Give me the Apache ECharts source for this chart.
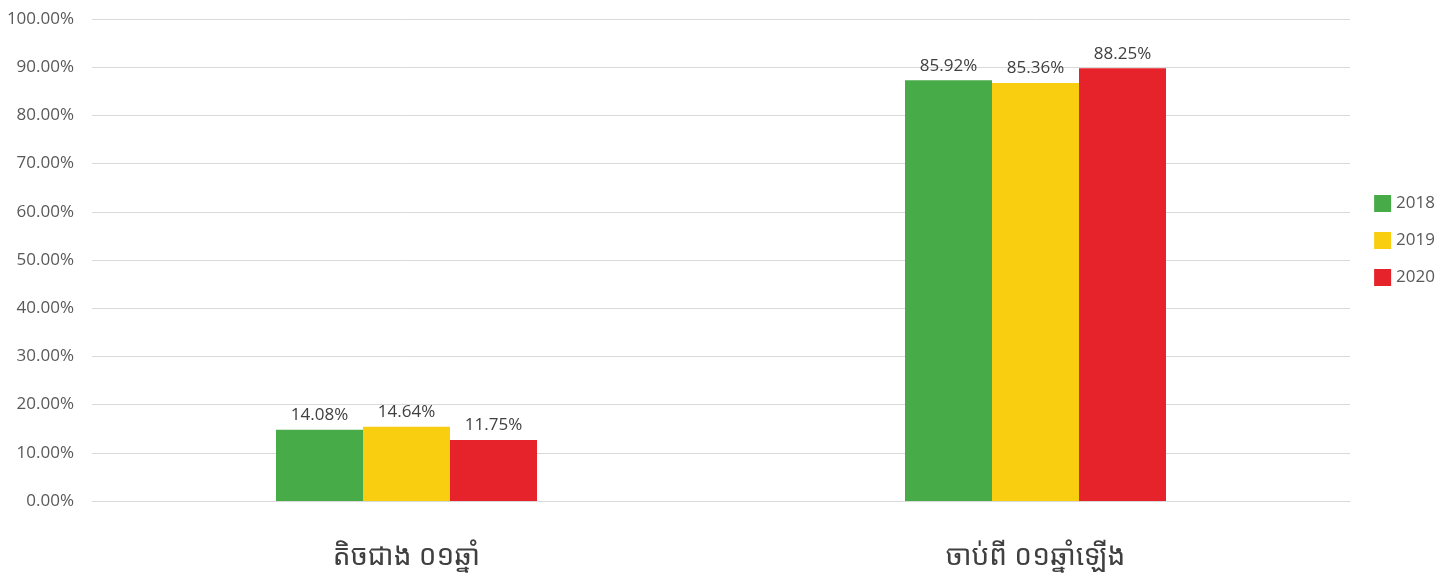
<!DOCTYPE html>
<html>
<head>
    <meta charset="utf-8">
    <title>Bar chart</title>
    <script src="https://cdn.jsdelivr.net/npm/echarts/dist/echarts.min.js"></script>
    <style>
        html, body { margin: 0; padding: 0; background: #fff; }
    </style>
</head>
<body>
    <div id="main" style="width: 1454px;height:579px;"></div>
    <script type="text/javascript">
        var categories = ['តិចជាង ០១ឆ្នាំ', 'ចាប់ពី ០១ឆ្នាំឡើង'];
        var years = ['2018', '2019', '2020'];
        // bar heights as drawn in the picture
        var v2018 = [14.76, 87.3];
        var v2019 = [15.38, 86.7];
        var v2020 = [12.68, 89.8];
        // printed labels
        var l2018 = ['14.08%', '85.92%'];
        var l2019 = ['14.64%', '85.36%'];
        var l2020 = ['11.75%', '88.25%'];
        var colors = ['#47ab48', '#f9cd10', '#e6232b'];

        var values = [v2018, v2019, v2020];
        var labels = [l2018, l2019, l2020];

        var myChart = echarts.init(document.getElementById('main'));
        var font = '"Open Sans", "Noto Sans", sans-serif';

        var series = years.map(function (y, i) {
            return {
                name: y,
                type: 'bar',
                barWidth: 87,
                barGap: '0%',
                itemStyle: { color: colors[i] },
                label: {
                    show: true,
                    position: 'top',
                    distance: 6,
                    color: '#404040',
                    fontSize: 17,
                    fontFamily: font,
                    formatter: function (p) { return labels[i][p.dataIndex]; }
                },
                data: values[i]
            };
        });

        var option = {
            animation: false,
            textStyle: { fontFamily: font },
            grid: { left: 92, right: 104, top: 19, bottom: 78 },
            legend: {
                orient: 'vertical',
                right: 14,
                top: 190,
                itemWidth: 17,
                itemHeight: 17,
                itemGap: 20,
                icon: 'rect',
                textStyle: { color: '#595959', fontSize: 17, fontFamily: font },
                data: years
            },
            xAxis: {
                type: 'category',
                data: categories,
                axisLine: { lineStyle: { color: '#d9d9d9' } },
                axisTick: { show: false },
                axisLabel: {
                    color: '#404040',
                    fontSize: 28,
                    margin: 42,
                    fontFamily: '"Noto Sans Khmer", "Khmer OS", "Noto Sans", sans-serif'
                }
            },
            yAxis: {
                type: 'value',
                min: 0,
                max: 100,
                interval: 10,
                axisLine: { show: false },
                axisTick: { show: false },
                splitLine: { lineStyle: { color: '#d9d9d9' } },
                axisLabel: {
                    color: '#595959',
                    fontSize: 17,
                    margin: 18,
                    formatter: function (v) { return v.toFixed(2) + '%'; }
                }
            },
            series: series
        };

        myChart.setOption(option);
    </script>
</body>
</html>
